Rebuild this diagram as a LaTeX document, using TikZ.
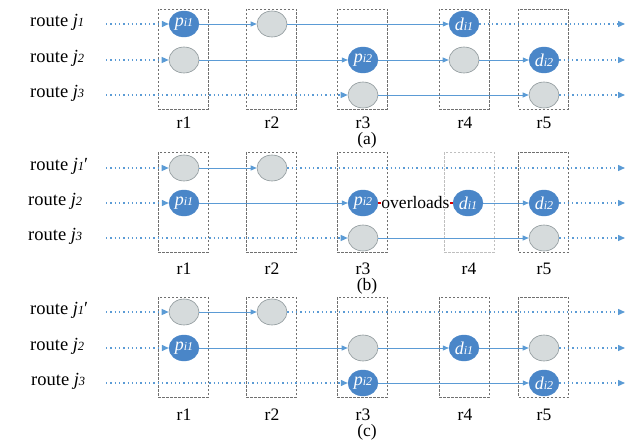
\documentclass[tikz,border=0pt]{standalone}
\usepackage{fontspec}
\setmainfont{Liberation Serif}
\usetikzlibrary{shapes.geometric,arrows.meta}
\definecolor{cblue}{HTML}{5B9BD5}
\definecolor{cnode}{HTML}{4A86C8}
\definecolor{cgray}{HTML}{D6DBDC}
\definecolor{cgrayb}{HTML}{8C9699}
\definecolor{cbox}{HTML}{707070}
\newcommand{\rt}[2]{route \textit{j}{\fontsize{12.5}{12.5}\selectfont\textit{#1}}#2}
\newcommand{\nl}[2]{{\fontsize{18}{18}\selectfont\itshape #1}{\fontsize{12}{12}\selectfont\itshape #2}}
\tikzset{
  bnode/.style={ellipse, fill=cnode, draw=cnode, minimum width=30pt, minimum height=26pt, inner sep=0pt, text=white},
  gnode/.style={ellipse, fill=cgray, draw=cgrayb, line width=0.6pt, minimum width=30pt, minimum height=26pt, inner sep=0pt},
  sline/.style={draw=cblue, line width=0.8pt, -{Triangle[length=6pt,width=5pt]}},
  dline/.style={draw=cblue, line width=1.3pt, dash pattern=on 1.3pt off 3pt, -{Triangle[length=7pt,width=6pt]}},
  rbox/.style={draw=cbox, dash pattern=on 2.5pt off 1.5pt, line width=0.7pt, minimum width=50pt, minimum height=100pt, inner sep=0pt},
  lbl/.style={font=\fontsize{17.5}{17.5}\selectfont, inner sep=0pt},
  rlbl/.style={font=\fontsize{18.5}{18.5}\selectfont, inner sep=0pt, anchor=mid west}
}
\begin{document}
\begin{tikzpicture}[x=1pt,y=-1pt]
\useasboundingbox (0,0) rectangle (626,441);
% ---------------- panel (a)
\node[rbox] (ra1) at (183,59) {};
\node[rbox] (ra2) at (271,59) {};
\node[rbox] (ra3) at (362,59) {};
\node[rbox] (ra4) at (464,59) {};
\node[rbox] (ra5) at (543.5,59) {};
\node[lbl] (la1) at (184,122.5) {r1};
\node[lbl] (la2) at (272,122.5) {r2};
\node[lbl] (la3) at (363,122.5) {r3};
\node[lbl] (la4) at (465,122.5) {r4};
\node[lbl] (la5) at (544,122.5) {r5};
\node[lbl] (pa) at (367,140) {(a)};
\node[rlbl] (ta1) at (30,24) {\rt{1}{}};
\node[rlbl] (ta2) at (30,60) {\rt{2}{}};
\node[rlbl] (ta3) at (30,95) {\rt{3}{}};
\coordinate (sa1) at (106,24); \coordinate (ea1) at (625,24);
\coordinate (sa2) at (106,60); \coordinate (ea2) at (625,60);
\coordinate (sa3) at (106,95); \coordinate (ea3) at (625,95);
\node[bnode] (a11) at (184,24) {\nl{p}{i1}};
\node[gnode] (a21) at (272,24) {};
\node[bnode] (a41) at (464,24) {\nl{d}{i1}};
\node[gnode] (a12) at (184,60) {};
\node[bnode] (a32) at (363,60) {\nl{p}{i2}};
\node[gnode] (a42) at (464,60) {};
\node[bnode] (a52) at (544,60) {\nl{d}{i2}};
\node[gnode] (a33) at (363,95) {};
\node[gnode] (a53) at (544,95) {};
\draw[dline] (sa1) -- (a11);
\draw[sline] (a11) -- (a21);
\draw[sline] (a21) -- (a41);
\draw[dline] (a41) -- (ea1);
\draw[dline] (sa2) -- (a12);
\draw[sline] (a12) -- (a32);
\draw[sline] (a32) -- (a42);
\draw[sline] (a42) -- (a52);
\draw[dline] (a52) -- (ea2);
\draw[dline] (sa3) -- (a33);
\draw[sline] (a33) -- (a53);
\draw[dline] (a53) -- (ea3);
% ---------------- panel (b)
\node[rbox] (rb1) at (183,202) {};
\node[rbox] (rb2) at (271,202) {};
\node[rbox] (rb3) at (362,202) {};
\node[rbox, draw=cbox!45] (rb4) at (469,202) {};
\node[rbox] (rb5) at (543.5,202) {};
\node[lbl] (lb1) at (184,268.5) {r1};
\node[lbl] (lb2) at (272,268.5) {r2};
\node[lbl] (lb3) at (363,268.5) {r3};
\node[lbl] (lb4) at (469,268.5) {r4};
\node[lbl] (lb5) at (544,268.5) {r5};
\node[lbl] (pb) at (367,286) {(b)};
\node[rlbl] (tb1) at (30,168) {\rt{1}{′}};
\node[rlbl] (tb2) at (28,203) {\rt{2}{}};
\node[rlbl] (tb3) at (28,238) {\rt{3}{}};
\coordinate (sb1) at (106,168); \coordinate (eb1) at (625,168);
\coordinate (sb2) at (106,203); \coordinate (eb2) at (625,203);
\coordinate (sb3) at (106,238); \coordinate (eb3) at (625,238);
\node[gnode] (b11) at (184,168) {};
\node[gnode] (b21) at (272,168) {};
\node[bnode] (b12) at (184,203) {\nl{p}{i1}};
\node[bnode] (b32) at (363,203) {\nl{p}{i2}};
\node[bnode] (b42) at (468,203) {\nl{d}{i1}};
\node[bnode] (b52) at (544,203) {\nl{d}{i2}};
\node[gnode] (b33) at (363,238) {};
\node[gnode] (b53) at (544,238) {};
\draw[dline] (sb1) -- (b11);
\draw[sline] (b11) -- (b21);
\draw[dline] (b21) -- (eb1);
\draw[dline] (sb2) -- (b12);
\draw[sline] (b12) -- (b32);
\draw[draw=red!85!black, line width=1.5pt] (b32) -- node[fill=white, inner sep=0pt, font=\fontsize{17.5}{17.5}\selectfont] (ovl) {overloads} (b42);
\draw[sline] (b42) -- (b52);
\draw[dline] (b52) -- (eb2);
\draw[dline] (sb3) -- (b33);
\draw[sline] (b33) -- (b53);
\draw[dline] (b53) -- (eb3);
% ---------------- panel (c)
\node[rbox] (rc1) at (183,347) {};
\node[rbox] (rc2) at (271,347) {};
\node[rbox] (rc3) at (362,347) {};
\node[rbox] (rc4) at (464,347) {};
\node[rbox] (rc5) at (543.5,347) {};
\node[lbl] (lc1) at (184,415) {r1};
\node[lbl] (lc2) at (272,415) {r2};
\node[lbl] (lc3) at (363,415) {r3};
\node[lbl] (lc4) at (465,415) {r4};
\node[lbl] (lc5) at (544,415) {r5};
\node[lbl] (pc) at (367,432.5) {(c)};
\node[rlbl] (tc1) at (30,312) {\rt{1}{′}};
\node[rlbl] (tc2) at (30,348) {\rt{2}{}};
\node[rlbl] (tc3) at (31,383) {\rt{3}{}};
\coordinate (sc1) at (106,312); \coordinate (ec1) at (625,312);
\coordinate (sc2) at (106,348); \coordinate (ec2) at (625,348);
\coordinate (sc3) at (106,383); \coordinate (ec3) at (625,383);
\node[gnode] (c11) at (184,312) {};
\node[gnode] (c21) at (272,312) {};
\node[bnode] (c12) at (184,348) {\nl{p}{i1}};
\node[gnode] (c32) at (363,348) {};
\node[bnode] (c42) at (464,348) {\nl{d}{i1}};
\node[gnode] (c52) at (544,348) {};
\node[bnode] (c33) at (363,383) {\nl{p}{i2}};
\node[bnode] (c53) at (544,383) {\nl{d}{i2}};
\draw[dline] (sc1) -- (c11);
\draw[sline] (c11) -- (c21);
\draw[dline] (c21) -- (ec1);
\draw[dline] (sc2) -- (c12);
\draw[sline] (c12) -- (c32);
\draw[sline] (c32) -- (c42);
\draw[sline] (c42) -- (c52);
\draw[dline] (c52) -- (ec2);
\draw[dline] (sc3) -- (c33);
\draw[sline] (c33) -- (c53);
\draw[dline] (c53) -- (ec3);
\end{tikzpicture}
\end{document}
